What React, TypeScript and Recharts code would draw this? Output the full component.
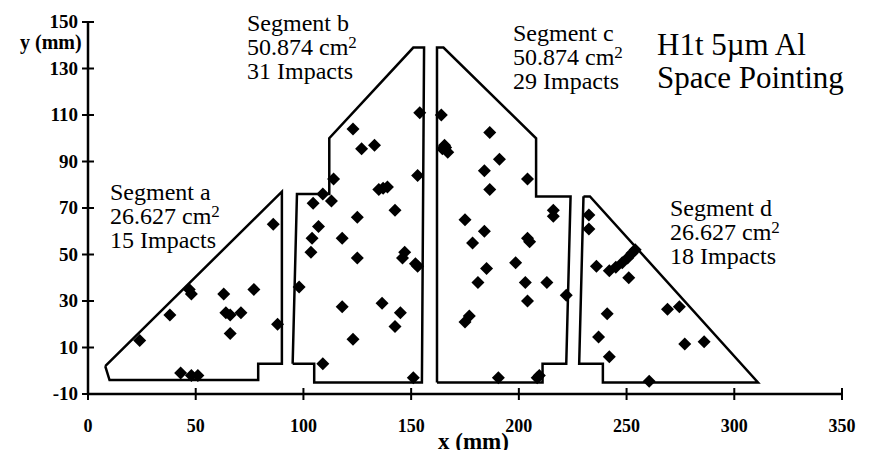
// H1t 5um Al, space pointing: impact positions on four foil segments
import { ScatterChart, Scatter, XAxis, YAxis } from 'recharts';

const xTicks = [0, 50, 100, 150, 200, 250, 300, 350];
const yTicks = [-10, 10, 30, 50, 70, 90, 110, 130, 150];

// segment outlines (mm), closed
const outlineA = [
  { x: 8, y: 2 }, { x: 10, y: -4 }, { x: 79, y: -4 }, { x: 79, y: 3 }, { x: 90, y: 3 },
  { x: 90, y: 77 }, { x: 8, y: 2 },
];
const outlineB = [
  { x: 95, y: 3 }, { x: 97, y: 76 }, { x: 112, y: 76 }, { x: 112, y: 100 }, { x: 151, y: 139 },
  { x: 156, y: 139 }, { x: 155, y: -5 }, { x: 105, y: -5 }, { x: 105, y: 3 }, { x: 95, y: 3 },
];
const outlineC = [
  { x: 162, y: -5 }, { x: 162, y: 139 }, { x: 165, y: 139 }, { x: 208, y: 100 }, { x: 208, y: 75 },
  { x: 224, y: 75 }, { x: 222, y: 3 }, { x: 211, y: 3 }, { x: 211, y: -5 }, { x: 162, y: -5 },
];
const outlineD = [
  { x: 230, y: 75 }, { x: 233, y: 75 }, { x: 311, y: -5 }, { x: 239, y: -5 }, { x: 239, y: 3 },
  { x: 228, y: 3 }, { x: 230, y: 75 },
];

// impacts (mm)
const impactsA = [
  { x: 24, y: 13 }, { x: 38, y: 24 }, { x: 47, y: 35 }, { x: 48, y: 33 }, { x: 43, y: -1 },
  { x: 48, y: -2 }, { x: 51, y: -2 }, { x: 63, y: 33 }, { x: 64, y: 25 }, { x: 66, y: 24 },
  { x: 66, y: 16 }, { x: 71, y: 25 }, { x: 77, y: 35 }, { x: 88, y: 20 }, { x: 86, y: 63 },
];
const impactsB = [
  { x: 154, y: 111 }, { x: 123, y: 104 }, { x: 127, y: 95.5 }, { x: 133, y: 97 }, { x: 114, y: 82.5 },
  { x: 153, y: 84 }, { x: 135, y: 78 }, { x: 137, y: 78.5 }, { x: 139, y: 79 }, { x: 109, y: 76 },
  { x: 104.5, y: 72 }, { x: 113, y: 73 }, { x: 142.5, y: 69 }, { x: 125, y: 66 }, { x: 107, y: 62 },
  { x: 104, y: 57 }, { x: 118, y: 57 }, { x: 103.5, y: 51 }, { x: 125, y: 48.5 }, { x: 147, y: 51 },
  { x: 146, y: 48.5 }, { x: 152, y: 46 }, { x: 153, y: 45 }, { x: 98, y: 36 }, { x: 118, y: 27.5 },
  { x: 136.5, y: 29 }, { x: 145, y: 25 }, { x: 142.5, y: 19 }, { x: 123, y: 13.5 }, { x: 109, y: 3 },
  { x: 151, y: -3 },
];
const impactsC = [
  { x: 164, y: 110 }, { x: 186.5, y: 102.5 }, { x: 165.5, y: 97 }, { x: 167, y: 94 }, { x: 164.5, y: 95.5 },
  { x: 191, y: 91 }, { x: 184, y: 86 }, { x: 204, y: 82.5 }, { x: 186.5, y: 78 }, { x: 216, y: 69 },
  { x: 216, y: 66.5 }, { x: 175, y: 65 }, { x: 184, y: 60 }, { x: 178.5, y: 55 }, { x: 204, y: 57 },
  { x: 205, y: 55.5 }, { x: 185, y: 44 }, { x: 198.5, y: 46.5 }, { x: 181, y: 38 }, { x: 203, y: 38 },
  { x: 213, y: 38 }, { x: 204, y: 30 }, { x: 222, y: 32.5 }, { x: 177, y: 23.5 }, { x: 175, y: 21 },
  { x: 190.5, y: -3 }, { x: 208.5, y: -3 }, { x: 209.5, y: -2 }, { x: 166, y: 96 },
];
const impactsD = [
  { x: 232.5, y: 67 }, { x: 232.5, y: 61 }, { x: 236, y: 45 }, { x: 242, y: 43 }, { x: 245, y: 44.5 },
  { x: 248, y: 46.5 }, { x: 250.5, y: 48.5 }, { x: 252.5, y: 50.5 }, { x: 251, y: 40 }, { x: 241, y: 24.5 },
  { x: 269, y: 26.5 }, { x: 274.5, y: 27.5 }, { x: 237, y: 14.5 }, { x: 277, y: 11.5 }, { x: 286, y: 12.5 },
  { x: 242, y: 6 }, { x: 260.5, y: -4.5 }, { x: 254, y: 52 },
];

const segmentNames = ['Segment a', 'Segment b', 'Segment c', 'Segment d'];
const segmentAreas = ['26.627', '50.874', '50.874', '26.627'];
const segmentImpacts = [15, 31, 29, 18];

const serif = '"Liberation Serif", "Times New Roman", serif';

function Diamond(props: any) {
  const { cx, cy } = props;
  const r = 6.5;
  return <polygon points={`${cx},${cy - r} ${cx + r},${cy} ${cx},${cy + r} ${cx - r},${cy}`} fill="#000" />;
}

const NoDot = () => <g />;

function XTick({ x, y, payload }: any) {
  return (
    <g>
      <line x1={x} x2={x} y1={y - 6} y2={y + 6} stroke="#000" strokeWidth={2} />
      <text x={x} y={y + 38} textAnchor="middle" fontFamily={serif} fontWeight="bold" fontSize={18} fill="#000">
        {payload.value}
      </text>
    </g>
  );
}

function YTick({ x, y, payload }: any) {
  return (
    <g>
      <line x1={x - 6} x2={x + 6} y1={y} y2={y} stroke="#000" strokeWidth={2} />
      <text x={x - 10} y={y + 6} textAnchor="end" fontFamily={serif} fontWeight="bold" fontSize={19} fill="#000">
        {payload.value}
      </text>
    </g>
  );
}

// label blocks: left x and first baseline in px
const labelPos = [
  { x: 110, y: 200 },
  { x: 247, y: 31 },
  { x: 513, y: 41 },
  { x: 670, y: 216 },
];

function SegmentLabel({ i }: { i: number }) {
  const { x, y } = labelPos[i];
  return (
    <text fontFamily={serif} fontSize={24} fill="#000">
      <tspan x={x} y={y}>{segmentNames[i]}</tspan>
      <tspan x={x} y={y + 24}>{segmentAreas[i]} cm</tspan>
      <tspan dy={-7} fontSize={17}>2</tspan>
      <tspan x={x} y={y + 48}>{segmentImpacts[i]} Impacts</tspan>
    </text>
  );
}

const outlines = [outlineA, outlineB, outlineC, outlineD];
const impacts = [impactsA, impactsB, impactsC, impactsD];

export default function App() {
  return (
    <div style={{ position: 'relative', width: 871, height: 458, margin: -8, background: '#fff' }}>
      <ScatterChart width={871} height={458} margin={{ top: 22, right: 29, bottom: 0, left: 0 }}>
        <XAxis
          type="number"
          dataKey="x"
          domain={[0, 350]}
          ticks={xTicks}
          height={64}
          tickSize={0}
          tickMargin={0}
          tickLine={false}
          axisLine={{ stroke: '#000', strokeWidth: 2.5 }}
          tick={<XTick />}
          interval={0}
        />
        <YAxis
          type="number"
          dataKey="y"
          domain={[-10, 150]}
          ticks={yTicks}
          width={88}
          tickSize={0}
          tickMargin={0}
          tickLine={false}
          axisLine={{ stroke: '#000', strokeWidth: 2.5 }}
          tick={<YTick />}
          interval={0}
        />
        {outlines.map((o, i) => (
          <Scatter
            key={'o' + i}
            data={o}
            fill="#000"
            line={{ stroke: '#000', strokeWidth: 2.5 }}
            lineType="joint"
            shape={NoDot}
            isAnimationActive={false}
          />
        ))}
        {impacts.map((p, i) => (
          <Scatter key={'p' + i} data={p} fill="#000" shape={Diamond} isAnimationActive={false} />
        ))}
      </ScatterChart>
      <svg width={871} height={458} style={{ position: 'absolute', left: 0, top: 0, pointerEvents: 'none' }}>
        <text x={20} y={49} fontFamily={serif} fontWeight="bold" fontSize={20} fill="#000">y (mm)</text>
        <text x={438} y={449} fontFamily={serif} fontWeight="bold" fontSize={23} fill="#000">x (mm)</text>
        <text fontFamily={serif} fontSize={31} fill="#000">
          <tspan x={657} y={55}>H1t 5µm Al</tspan>
          <tspan x={657} y={88}>Space Pointing</tspan>
        </text>
        {segmentNames.map((_, i) => (
          <SegmentLabel key={i} i={i} />
        ))}
      </svg>
    </div>
  );
}
